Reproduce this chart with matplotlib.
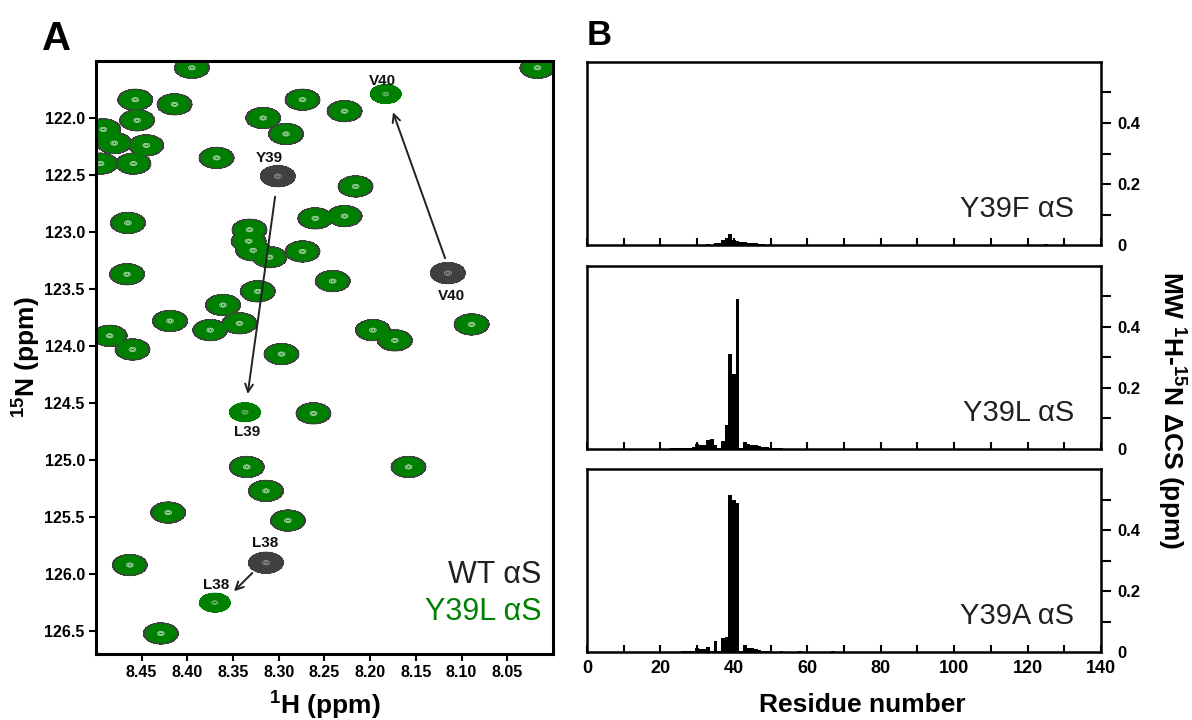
import numpy as np
import matplotlib
matplotlib.use('Agg')
import matplotlib.pyplot as plt

plt.rcParams['font.family'] = ['Liberation Sans', 'DejaVu Sans']
plt.rcParams['font.weight'] = 'bold'
plt.rcParams['axes.labelweight'] = 'bold'
plt.rcParams['mathtext.fontset'] = 'custom'
plt.rcParams['mathtext.rm'] = 'Liberation Sans:bold'
plt.rcParams['mathtext.bf'] = 'Liberation Sans:bold'

# ---- panel A: HSQC peak positions (1H ppm, 15N ppm) ----
# peaks that overlap in both spectra
shared_h = [8.395, 8.457, 8.455, 8.414, 8.492, 8.480, 8.445, 8.459, 8.495,
            8.274, 8.317, 8.292, 8.368, 8.465, 8.466, 8.332, 8.333, 8.328,
            8.310, 8.274, 8.260, 8.228, 8.323, 8.361, 8.375, 8.343, 8.419,
            8.485, 8.460, 8.297, 8.017, 8.228, 8.216, 8.241, 8.089, 8.197,
            8.173, 8.262, 8.335, 8.314, 8.421, 8.290, 8.463, 8.429, 8.158]
shared_n = [121.56, 121.84, 122.02, 121.88, 122.10, 122.22, 122.24, 122.40, 122.40,
            121.84, 122.00, 122.14, 122.35, 122.92, 123.37, 122.98, 123.08, 123.16,
            123.22, 123.17, 122.88, 122.86, 123.52, 123.64, 123.86, 123.80, 123.78,
            123.91, 124.03, 124.07, 121.56, 121.94, 122.60, 123.43, 123.81, 123.86,
            123.95, 124.59, 125.06, 125.27, 125.46, 125.53, 125.92, 126.52, 125.06]
# peaks that move: L38, Y39 / L39, V40
wt_h = [8.314, 8.301, 8.115]
wt_n = [125.90, 122.51, 123.36]
mut_h = [8.370, 8.337, 8.183]
mut_n = [126.25, 124.58, 121.79]

# ---- panel B: weighted 1H-15N chemical shift differences ----
res_f = [33, 35, 36, 37, 38, 39, 40, 41, 42, 43, 44, 45, 46, 47, 48, 50, 125]
dcs_f = [0.003, 0.005, 0.006, 0.018, 0.022, 0.036, 0.015, 0.013, 0.010, 0.010,
         0.008, 0.006, 0.005, 0.004, 0.003, 0.003, 0.003]

res_l = [23, 24, 25, 26, 27, 28, 29, 30, 31, 32, 33, 34, 35, 36, 37, 38, 39, 40,
         41, 42, 43, 44, 45, 46, 47, 48, 49, 50, 51, 52, 53]
dcs_l = [0.002, 0.002, 0.003, 0.002, 0.003, 0.004, 0.006, 0.018, 0.012, 0.012,
         0.030, 0.034, 0.012, 0.004, 0.027, 0.078, 0.313, 0.246, 0.493, 0.002,
         0.023, 0.015, 0.014, 0.012, 0.010, 0.007, 0.006, 0.003, 0.003, 0.002, 0.002]

res_a = [26, 27, 28, 29, 30, 31, 32, 33, 34, 35, 36, 37, 38, 39, 40, 41, 42, 43,
         44, 45, 46, 47, 48, 49, 50, 53, 58, 67]
dcs_a = [0.002, 0.003, 0.004, 0.003, 0.014, 0.011, 0.011, 0.018, 0.002, 0.037,
         0.002, 0.046, 0.050, 0.516, 0.497, 0.488, 0.003, 0.022, 0.012, 0.013,
         0.010, 0.008, 0.005, 0.004, 0.003, 0.003, 0.002, 0.003]

mutants = ['Y39F', 'Y39L', 'Y39A']

GRAY = '#404040'
GREEN = '#008000'


def spectrum(hs, ns, HH, NN, sh, sn):
    # union of single peaks (max, so neighbours don't pile up)
    z = np.zeros_like(HH)
    for h, n in zip(hs, ns):
        g = np.exp(-((HH - h) ** 2 / (2 * sh ** 2) + (NN - n) ** 2 / (2 * sn ** 2)))
        z = np.maximum(z, g)
    return z


fig = plt.figure(figsize=(11.92, 7.2), dpi=100)

# ---------------- panel A ----------------
axA = fig.add_axes([0.0805, 0.0917, 0.3834, 0.8236])
hh = np.linspace(7.98, 8.52, 760)
nn = np.linspace(121.3, 126.9, 900)
HH, NN = np.meshgrid(hh, nn)
z_wt = spectrum(shared_h + wt_h, shared_n + wt_n, HH, NN, 0.0078, 0.038)
z_mut = spectrum(shared_h + mut_h, shared_n + mut_n, HH, NN, 0.0069, 0.034)

base = 0.05
for z, col in [(z_wt, GRAY), (z_mut, GREEN)]:
    axA.contourf(HH, NN, z, levels=[base, 1e6], colors=[col])
    axA.contour(HH, NN, z, levels=[base, base * 1.3, base * 1.7], colors=[col],
                linewidths=0.6)
    axA.contour(HH, NN, z, levels=[0.88, 0.96], colors='white', linewidths=0.3,
                alpha=0.8)

axA.set_xlim(8.50, 8.00)
axA.set_ylim(126.70, 121.50)
axA.set_xticks(np.arange(8.05, 8.451, 0.05))
axA.set_xticklabels(['%.2f' % v for v in np.arange(8.05, 8.451, 0.05)])
axA.set_yticks(np.arange(122.0, 126.51, 0.5))
axA.set_yticklabels(['%.1f' % v for v in np.arange(122.0, 126.51, 0.5)])
axA.tick_params(direction='out', length=5, width=1.5, labelsize=11.5, pad=3)
for s in axA.spines.values():
    s.set_linewidth(2.2)
axA.set_xlabel(r'$^{1}$H (ppm)', fontsize=19, fontweight='bold')
axA.set_ylabel(r'$^{15}$N (ppm)', fontsize=19, fontweight='bold')
axA.xaxis.set_label_coords(0.5, -0.058)
axA.yaxis.set_label_coords(-0.118, 0.5)

# peak labels
for txt, h, n in [('Y39', 8.310, 122.385), ('V40', 8.187, 121.709),
                  ('V40', 8.111, 123.594), ('L39', 8.335, 124.79),
                  ('L38', 8.315, 125.765), ('L38', 8.369, 126.129)]:
    axA.text(h, n, txt, ha='center', va='baseline', fontsize=11, color='#111111')

arrow = dict(arrowstyle='->', color='#222222', lw=1.4, shrinkA=0, shrinkB=0,
             mutation_scale=14)
axA.annotate('', xy=(8.334, 124.42), xytext=(8.304, 122.69), arrowprops=arrow)
axA.annotate('', xy=(8.175, 121.95), xytext=(8.118, 123.23), arrowprops=arrow)
axA.annotate('', xy=(8.349, 126.15), xytext=(8.329, 125.99), arrowprops=arrow)

axA.text(0.975, 0.1197, 'WT αS', transform=axA.transAxes, ha='right',
         va='baseline', fontsize=22, fontweight='normal', color='#231f20')
axA.text(0.975, 0.0573, 'Y39L αS', transform=axA.transAxes, ha='right',
         va='baseline', fontsize=22, fontweight='normal', color=GREEN)

# ---------------- panel B ----------------
bottoms = [0.6597, 0.3764, 0.0944]
data_b = [(res_f, dcs_f), (res_l, dcs_l), (res_a, dcs_a)]
for i, (b, (res, dcs), name) in enumerate(zip(bottoms, data_b, mutants)):
    ax = fig.add_axes([0.4924, b, 0.4312, 0.2542])
    ax.bar(res, dcs, width=1.0, color='black', linewidth=0)
    ax.set_xlim(0, 140)
    ax.set_ylim(0, 0.6)
    ax.yaxis.tick_right()
    ax.set_yticks([0, 0.2, 0.4])
    ax.set_yticklabels(['0', '0.2', '0.4'])
    ax.set_yticks([0.1, 0.3, 0.5], minor=True)
    ax.tick_params(axis='y', which='both', direction='out', length=7, width=1.5,
                   labelsize=12, pad=5)
    ax.yaxis.get_major_ticks()[0].tick2line.set_visible(False)
    ax.set_xticks(range(0, 141, 20))
    ax.set_xticks(range(10, 140, 20), minor=True)
    ax.tick_params(axis='x', which='both', direction='in', length=5, width=1.5,
                   labelsize=13, pad=6)
    for s in ax.spines.values():
        s.set_linewidth(1.8)
    if i < 2:
        ax.set_xticklabels([])
    else:
        ax.set_xlabel('Residue number', fontsize=19, fontweight='bold')
        ax.xaxis.set_label_coords(0.535, -0.225)
    ax.text(0.9475, 0.153, name + ' αS', transform=ax.transAxes, ha='right',
            va='baseline', fontsize=21, fontweight='normal', color='#231f20')

fig.text(1172 / 1192, 1 - 410 / 720, r'MW $^{1}$H-$^{15}$N ΔCS (ppm)',
         rotation=270, ha='center', va='center', fontsize=19, fontweight='bold')

fig.text(42 / 1192, 1 - 50 / 720, 'A', fontsize=29, ha='left', va='baseline')
fig.text(587 / 1192, 1 - 45 / 720, 'B', fontsize=25, ha='left', va='baseline')

fig.savefig('out.png', dpi=100)
